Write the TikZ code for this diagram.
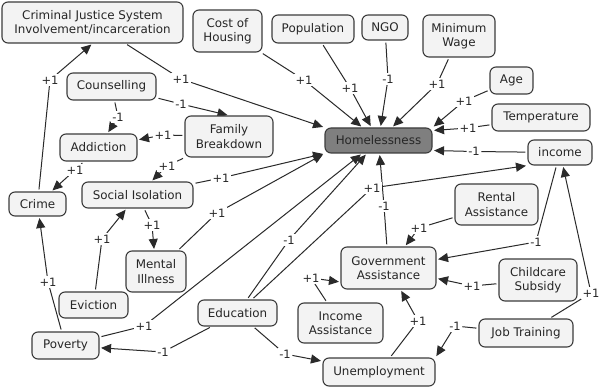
\documentclass[tikz,border=0pt]{standalone}
\usepackage{fontspec}
\setmainfont{DejaVu Sans}
\usetikzlibrary{arrows.meta}
\definecolor{boxfill}{HTML}{F3F3F3}
\definecolor{boxline}{HTML}{3C3C3C}
\definecolor{homefill}{HTML}{7F7F7F}
\definecolor{edgecol}{HTML}{2A2A2A}
\pgfdeclarelayer{bg}
\pgfsetlayers{bg,main}
\begin{document}
\begin{tikzpicture}[x=1pt,y=-1pt,
  box/.style={draw=boxline, fill=boxfill, line width=1.1pt, rounded corners=6pt, inner sep=0pt, align=center, font=\fontsize{11.9}{14.5}\selectfont, text=black!85},
  sz/.style 2 args={minimum width=#1pt, minimum height=#2pt},
  lbl/.style={fill=white, inner sep=1.5pt, font=\fontsize{11.5}{12}\selectfont, text=black!85},
  ln/.style={draw=edgecol, line width=1pt, shorten <=2pt},
  arr/.style={draw=edgecol, line width=1pt, -{Triangle[length=10pt,width=9pt]}, shorten >=1.5pt},
]
\useasboundingbox (0,0) rectangle (600,390);
\begin{pgfonlayer}{bg}
\fill[white] (0,0) rectangle (600,390);
\end{pgfonlayer}

% concept nodes
\node[box, sz={181}{41}] (cjs) at (92.5,22.5) {Criminal Justice System\\Involvement/incarceration};
\node[box, sz={69}{42}] (coh) at (227.5,31) {Cost of\\Housing};
\node[box, sz={82}{28}] (pop) at (313,29) {Population};
\node[box, sz={46}{25}] (ngo) at (385,27.5) {NGO};
\node[box, sz={72}{42}] (mw) at (459,36) {Minimum\\Wage};
\node[box, sz={43}{27}] (age) at (511.5,80.5) {Age};
\node[box, sz={98}{27}] (temp) at (541,117.5) {Temperature};
\node[box, sz={64}{25}] (income) at (560,152.5) {income};
\node[box, sz={107}{25}, fill=homefill] (home) at (378.5,140.5) {Homelessness};
\node[box, sz={89}{27}] (couns) at (111.5,86.5) {Counselling};
\node[box, sz={88}{41}] (fb) at (229,136.5) {Family\\Breakdown};
\node[box, sz={77}{27}] (addict) at (98.5,147.5) {Addiction};
\node[box, sz={57}{24}] (crime) at (37.5,204) {Crime};
\node[box, sz={111}{26}] (si) at (137.5,195) {Social Isolation};
\node[box, sz={60}{41}] (mi) at (156,271.5) {Mental\\Illness};
\node[box, sz={69}{26}] (evict) at (93.5,305) {Eviction};
\node[box, sz={67}{27}] (pov) at (65.5,345.5) {Poverty};
\node[box, sz={79}{26}] (edu) at (237.5,313) {Education};
\node[box, sz={85}{40}] (ia) at (340.5,323) {Income\\Assistance};
\node[box, sz={112}{28}] (unemp) at (379,372) {Unemployment};
\node[box, sz={94}{28}] (jt) at (526,333) {Job Training};
\node[box, sz={78}{42}] (cc) at (538,280) {Childcare\\Subsidy};
\node[box, sz={95}{42}] (gov) at (388.5,268) {Government\\Assistance};
\node[box, sz={83}{41}] (rent) at (496.5,204.5) {Rental\\Assistance};

% link labels
\node[lbl] (l1) at (50,80) {+1};
\node[lbl] (l2) at (181,79) {+1};
\node[lbl] (l3) at (304,80) {+1};
\node[lbl] (l4) at (350,88) {+1};
\node[lbl] (l5) at (388,79) {-1};
\node[lbl] (l6) at (437,84) {+1};
\node[lbl] (l7) at (464,101) {+1};
\node[lbl] (l8) at (468,128) {+1};
\node[lbl] (l9) at (474,151.5) {-1};
\node[lbl] (l10) at (118,117) {-1};
\node[lbl] (l11) at (181,104) {-1};
\node[lbl] (l12) at (163,135) {+1};
\node[lbl] (l13) at (167,166) {+1};
\node[lbl] (l14) at (75,170) {+1};
\node[lbl] (l15) at (221,178) {+1};
\node[lbl] (l16) at (152,225) {+1};
\node[lbl] (l17) at (217,213) {+1};
\node[lbl] (l18) at (102,239) {+1};
\node[lbl] (l19) at (48,282) {+1};
\node[lbl] (l20) at (144,326) {+1};
\node[lbl] (l21) at (289,240) {-1};
\node[lbl] (l22) at (372,188) {+1};
\node[lbl] (l23) at (163,352) {-1};
\node[lbl] (l24) at (285,354) {-1};
\node[lbl] (l25) at (384,206) {-1};
\node[lbl] (l26) at (419,228) {+1};
\node[lbl] (l27) at (536,242) {-1};
\node[lbl] (l28) at (472,286) {+1};
\node[lbl] (l29) at (311,278) {+1};
\node[lbl] (l30) at (418,321) {+1};
\node[lbl] (l31) at (455,326) {-1};
\node[lbl] (l32) at (591,293) {+1};

\begin{pgfonlayer}{bg}
\draw[ln] (crime) -- (l1);  \draw[arr] (l1) -- (cjs.south);
\draw[ln] (cjs) -- (l2);    \draw[arr] (l2) -- (home.north west);
\draw[ln] (coh) -- (l3);    \draw[arr] (l3) -- (home);
\draw[ln] (pop) -- (l4);    \draw[arr] (l4) -- (home);
\draw[ln] (ngo) -- (l5);    \draw[arr] (l5) -- (home);
\draw[ln] (mw) -- (l6);     \draw[arr] (l6) -- (home);
\draw[ln] (age) -- (l7);    \draw[arr] (l7) -- (home.north east);
\draw[ln] (temp) -- (l8);   \draw[arr] (l8) -- ([yshift=10pt]home.east);
\draw[ln] (income) -- (l9); \draw[arr] (l9) -- ([yshift=-10pt]home.east);
\draw[ln] (couns) -- (l10); \draw[arr] (l10) -- (addict);
\draw[ln] (couns) -- (l11); \draw[arr] (l11) -- (fb.north);
\draw[ln] (fb) -- (l12);    \draw[arr] (l12) -- (addict);
\draw[ln] (fb) -- (l13);    \draw[arr] (l13) -- (si);
\draw[ln] (addict) -- (l14);\draw[arr] (l14) -- (crime);
\draw[ln] (si) -- (l15);    \draw[arr] (l15) -- (home.south west);
\draw[ln] (si) -- (l16);    \draw[arr] (l16) -- (mi);
\draw[ln] (mi) -- (l17);    \draw[arr] (l17) -- (home.south west);
\draw[ln] (evict) -- (l18); \draw[arr] (l18) -- (si);
\draw[ln] (pov) -- (l19);   \draw[arr] (l19) -- (crime);
\draw[ln] (pov) -- (l20);   \draw[arr] (l20) -- (home);
\draw[ln] (edu) -- (l21);   \draw[arr] (l21) -- (home);
\draw[ln] (edu) -- (l22);   \draw[arr] (l22) -- (income.south west);
\draw[ln] (edu) -- (l23);   \draw[arr] (l23) -- (pov);
\draw[ln] (edu) -- (l24);   \draw[arr] (l24) -- (unemp);
\draw[ln] (gov) -- (l25);   \draw[arr] (l25) -- (home);
\draw[ln] (rent) -- (l26);  \draw[arr] (l26) -- (gov);
\draw[ln] (income) -- (l27);\draw[arr] (l27) -- (gov);
\draw[ln] (cc) -- (l28);    \draw[arr] (l28) -- (gov);
\draw[ln] (ia) -- (l29);    \draw[arr] (l29) -- ([yshift=-14pt]gov.west);
\draw[ln] (unemp) -- (l30); \draw[arr] (l30) -- (gov);
\draw[ln] (jt) -- (l31);    \draw[arr] (l31) -- (unemp.north east);
\draw[ln] (jt) -- (l32);    \draw[arr] (l32) -- (income);
\end{pgfonlayer}
\end{tikzpicture}
\end{document}
